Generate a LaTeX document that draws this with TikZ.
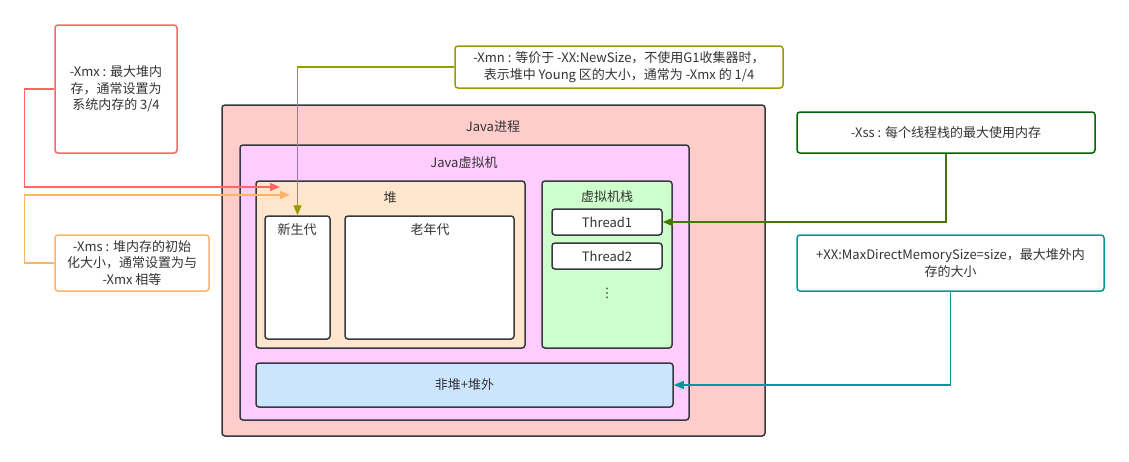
\documentclass[tikz,border=0pt]{standalone}
\usepackage{fontspec}
\setmainfont{Noto Sans CJK SC}
\newfontfamily\symfont{DejaVu Sans}
\usetikzlibrary{arrows.meta}
\definecolor{txt}{HTML}{333333}
\definecolor{boxline}{HTML}{36393D}
\definecolor{procfill}{HTML}{FFCCCC}
\definecolor{jvmfill}{HTML}{FFCCFF}
\definecolor{heapfill}{HTML}{FFE6CC}
\definecolor{stackfill}{HTML}{CCFFCC}
\definecolor{offfill}{HTML}{CCE5FF}
\definecolor{xmxline}{HTML}{FF6666}
\definecolor{xmsline}{HTML}{FFB366}
\definecolor{xmnline}{HTML}{999900}
\definecolor{xssline}{HTML}{006600}
\definecolor{xssarrow}{HTML}{447700}
\definecolor{mdmline}{HTML}{009999}

\begin{document}
\begin{tikzpicture}[x=1pt,y=-1pt,line width=1.5pt,
                    font=\fontsize{13}{16.5}\selectfont,
                    box/.style={draw=boxline,rounded corners=3pt,inner sep=0pt},
                    note/.style={draw,fill=white,rounded corners=3pt,align=center,text=txt,inner sep=0pt},
                    lbl/.style={text=txt,inner sep=0pt},
                    link/.style={-{Triangle[length=10pt,width=8pt]},line width=1.5pt}]
  \useasboundingbox (0,0) rectangle (1129,461);

  % nested boxes
  \node[box,fill=procfill,minimum width=543pt,minimum height=331pt] (proc) at (493.5,270.5) {};
  \node[box,fill=jvmfill,minimum width=449pt,minimum height=275pt] (jvm) at (464.5,282.5) {};
  \node[box,fill=heapfill,minimum width=269pt,minimum height=167pt] (heap) at (390.5,264.5) {};
  \node[box,fill=white,minimum width=65pt,minimum height=123pt] (young) at (297.5,277.5) {};
  \node[box,fill=white,minimum width=169pt,minimum height=123pt] (old) at (429.5,277.5) {};
  \node[box,fill=stackfill,minimum width=130pt,minimum height=167pt] (stack) at (607,264.5) {};
  \node[box,fill=white,text=txt,minimum width=110pt,minimum height=26pt] (t1) at (607,222) {Thread1};
  \node[box,fill=white,text=txt,minimum width=110pt,minimum height=26pt] (t2) at (607,256) {Thread2};
  \node[box,fill=offfill,text=txt,minimum width=417pt,minimum height=44pt] (offheap) at (464.5,385) {非堆+堆外};

  % box titles
  \node[lbl] (procl) at (493,127) {Java进程};
  \node[lbl] (jvml) at (464,163) {Java虚拟机};
  \node[lbl] (heapl) at (390,198) {堆};
  \node[lbl] (youngl) at (297,230) {新生代};
  \node[lbl] (oldl) at (430,230) {老年代};
  \node[lbl] (stackl) at (607,197) {虚拟机栈};
  \node[lbl] (dots) at (607,293) {\symfont ⋮};

  % notes
  \node[note,draw=xmxline,minimum width=122pt,minimum height=128pt] (xmx) at (116,89)
       {-Xmx : 最大堆内\\存，通常设置为\\系统内存的 3/4};
  \node[note,draw=xmsline,minimum width=154pt,minimum height=56pt] (xms) at (132,263)
       {-Xms : 堆内存的初始\\化大小，通常设置为与\\-Xmx 相等};
  \node[note,draw=xmnline,minimum width=328pt,minimum height=42pt] (xmn) at (619,67)
       {-Xmn : 等价于 -XX:NewSize，不使用G1收集器时，\\表示堆中 Young 区的大小，通常为 -Xmx 的 1/4};
  \node[note,draw=xssline,minimum width=298pt,minimum height=41pt] (xss) at (946,132.5)
       {-Xss : 每个线程栈的最大使用内存};
  \node[note,draw=mdmline,minimum width=307pt,minimum height=56pt] (mdm) at (950.5,263)
       {+XX:MaxDirectMemorySize=size，最大堆外内\\存的大小};

  \coordinate (xmxend) at (280,187);
  \coordinate (xmsend) at (290,195);

  % connectors
  \draw[link,xmxline] (xmx.west) -- ++(-30,0) |- (xmxend);
  \draw[link,xmsline] (xms.west) -- ++(-30,0) |- (xmsend);
  \draw[link,xmnline] (xmn.west) -| (young.north);
  \draw[link,xssarrow] (xss.south) |- (t1.east);
  \draw[link,mdmline] (mdm.south) |- (offheap.east);
\end{tikzpicture}
\end{document}
